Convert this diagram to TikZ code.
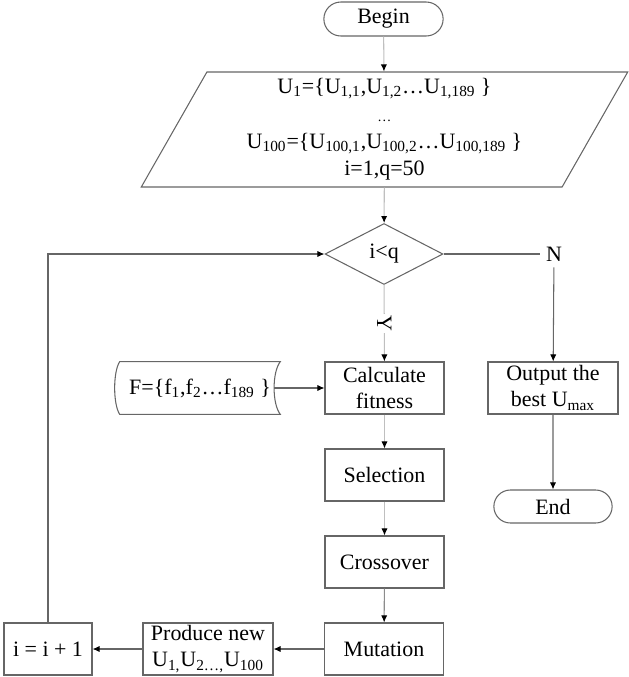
\documentclass[tikz,border=0pt]{standalone}
\usepackage{fontspec}
\setmainfont{Liberation Serif}
\usetikzlibrary{arrows.meta,shapes.geometric,shapes.misc}

\begin{document}
\begin{tikzpicture}[x=0.02cm,y=-0.02cm,>={Latex[length=4pt,width=3.5pt,color=black]},
  font=\fontsize{12.5}{14.8}\selectfont,
  line/.style={draw=black!60,line width=0.6pt},
  faint/.style={draw=black!25,line width=0.6pt},
  box/.style={rectangle,line,align=center,inner sep=1pt,minimum width=2.38cm,minimum height=1.04cm},
  term/.style={rounded rectangle,line,minimum width=2.62cm,minimum height=0.68cm},
  io/.style={trapezium,trapezium left angle=64,trapezium right angle=116,trapezium stretches=true,
    line,align=center,minimum width=9.74cm,minimum height=2.3cm,inner sep=1pt},
  test/.style={diamond,line,minimum width=2.36cm,minimum height=1.22cm,inner sep=0pt}]
  \useasboundingbox (0,0) rectangle (629,677);
  \node[term] (begin) at (383.5,19) {Begin};
  \node[io,font=\fontsize{12.5}{15.6}\selectfont] (init) at (384.5,129.5) {U\textsubscript{1}=\{U\textsubscript{1,1},U\textsubscript{1,2}…U\textsubscript{1,189} \}\\
    {\footnotesize…}\\
    U\textsubscript{100}=\{U\textsubscript{100,1},U\textsubscript{100,2}…U\textsubscript{100,189} \}\\
    i=1,q=50};
  \node[test] (check) at (384,254) {i<q};
  \node (nlab) at (554,254) {N};
  \node[box] (calcfit) at (384.5,388) {Calculate\\fitness};
  \node[box] (select) at (384.5,475) {Selection};
  \node[box] (cross) at (384.5,562) {Crossover};
  \node[box] (mutate) at (384,649) {Mutation};
  \node[box,minimum width=2.6cm] (produce) at (208,649) {Produce new\\U\textsubscript{1,}U\textsubscript{2…,}U\textsubscript{100}};
  \node[box,minimum width=1.76cm] (incr) at (48,649) {i = i + 1};
  \node[box,minimum width=2.6cm] (output) at (553,388) {Output the\\best U\textsubscript{max}};
  \node[term,minimum width=2.6cm,minimum height=0.66cm] (end) at (553,506.5) {End};
  \node[minimum width=3.2cm,minimum height=1.04cm] (fdata) at (200,388) {F=\{f\textsubscript{1},f\textsubscript{2}…f\textsubscript{189} \}};
  \draw[line] (fdata.north west) .. controls (113,372) and (113,404) .. (fdata.south west)
    -- (fdata.south east) .. controls (272,404) and (272,372) .. (fdata.north east) -- cycle;
  \coordinate (fout) at (274,388);
  \draw[faint,->] (begin) -- (init);
  \draw[faint,->] (init) -- (check);
  \draw[faint,->] (check) -- node[fill=white,rotate=-90,inner sep=1pt]{Y} (calcfit);
  \draw[faint,->] (calcfit) -- (select);
  \draw[faint,->] (select) -- (cross);
  \draw[line,draw=black!45,->] (cross) -- (mutate);
  \draw[line,->] (mutate) -- (produce);
  \draw[line,->] (produce) -- (incr);
  \draw[line,->] (incr) |- (check);
  \draw[line] (check) -- (nlab);
  \draw[line,->] (nlab) -- (output);
  \draw[line,->] (output) -- (end);
  \draw[line,->] (fout) -- (calcfit);
\end{tikzpicture}
\end{document}
